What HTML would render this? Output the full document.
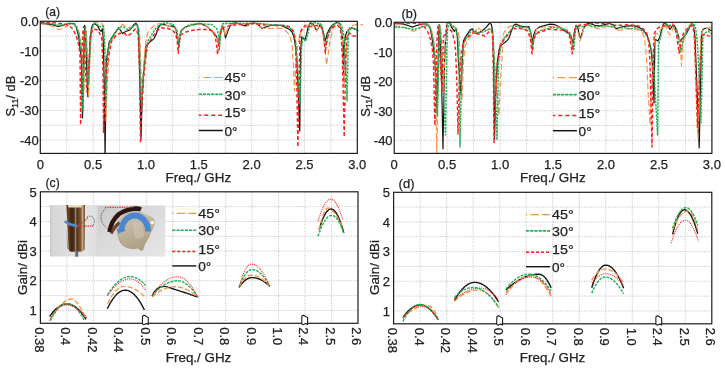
<!DOCTYPE html><html><head><meta charset="utf-8"><style>html,body{margin:0;padding:0;background:#fff;overflow:hidden}</style></head><body><svg width="725" height="371" viewBox="0 0 725 371" font-family='"Liberation Sans", sans-serif' style="display:block;will-change:transform">
<style>text{fill:#222222;stroke:#222222;stroke-width:0.25px} .gr{stroke:#bdbdbd;stroke-width:0.9;stroke-dasharray:1.1 1.3;fill:none}</style>
<rect width="725" height="371" fill="#fff"/>
<clipPath id="ca"><rect x="40.30" y="17.30" width="324.00" height="136.10"/></clipPath>
<line x1="66.72" y1="22.10" x2="66.72" y2="152.60" class="gr"/>
<line x1="93.13" y1="22.10" x2="93.13" y2="152.60" class="gr"/>
<line x1="119.55" y1="22.10" x2="119.55" y2="152.60" class="gr"/>
<line x1="145.97" y1="22.10" x2="145.97" y2="152.60" class="gr"/>
<line x1="172.38" y1="22.10" x2="172.38" y2="152.60" class="gr"/>
<line x1="198.80" y1="22.10" x2="198.80" y2="152.60" class="gr"/>
<line x1="225.22" y1="22.10" x2="225.22" y2="152.60" class="gr"/>
<line x1="251.63" y1="22.10" x2="251.63" y2="152.60" class="gr"/>
<line x1="278.05" y1="22.10" x2="278.05" y2="152.60" class="gr"/>
<line x1="304.47" y1="22.10" x2="304.47" y2="152.60" class="gr"/>
<line x1="330.88" y1="22.10" x2="330.88" y2="152.60" class="gr"/>
<line x1="41.10" y1="36.15" x2="356.50" y2="36.15" class="gr"/>
<line x1="41.10" y1="51.00" x2="356.50" y2="51.00" class="gr"/>
<line x1="41.10" y1="65.85" x2="356.50" y2="65.85" class="gr"/>
<line x1="41.10" y1="80.70" x2="356.50" y2="80.70" class="gr"/>
<line x1="41.10" y1="95.55" x2="356.50" y2="95.55" class="gr"/>
<line x1="41.10" y1="110.40" x2="356.50" y2="110.40" class="gr"/>
<line x1="41.10" y1="125.25" x2="356.50" y2="125.25" class="gr"/>
<line x1="41.10" y1="140.10" x2="356.50" y2="140.10" class="gr"/>
<text x="38.70" y="26.00" font-size="13" text-anchor="end" >0.0</text>
<text x="38.70" y="55.70" font-size="13" text-anchor="end" >-10</text>
<text x="38.70" y="85.40" font-size="13" text-anchor="end" >-20</text>
<text x="38.70" y="115.10" font-size="13" text-anchor="end" >-30</text>
<text x="38.70" y="144.80" font-size="13" text-anchor="end" >-40</text>
<text x="40.30" y="168.80" font-size="13" text-anchor="middle" >0</text>
<text x="93.13" y="168.80" font-size="13" text-anchor="middle" >0.5</text>
<text x="145.97" y="168.80" font-size="13" text-anchor="middle" >1.0</text>
<text x="198.80" y="168.80" font-size="13" text-anchor="middle" >1.5</text>
<text x="251.63" y="168.80" font-size="13" text-anchor="middle" >2.0</text>
<text x="304.47" y="168.80" font-size="13" text-anchor="middle" >2.5</text>
<text x="357.30" y="168.80" font-size="13" text-anchor="middle" >3.0</text>
<text x="165.60" y="181.50" font-size="13" text-anchor="start" textLength="65.5" lengthAdjust="spacingAndGlyphs" >Freq./ GHz</text>
<text x="45.20" y="15.50" font-size="13.5" text-anchor="start" textLength="14.8" lengthAdjust="spacingAndGlyphs" >(a)</text>
<text transform="translate(15.20 116.60) rotate(-90)" font-size="12" textLength="41" lengthAdjust="spacingAndGlyphs">S<tspan font-size="8.5" dy="2.5">11</tspan><tspan dy="-2.5">/ dB</tspan></text>
<path d="M198.8,77.5 L222.8,77.5" fill="none" stroke="#f5974a" stroke-width="1.2" stroke-linejoin="round" stroke-dasharray="8.2 3.3" stroke-dashoffset="7.2"/>
<path d="M198.8,94.2 L222.8,94.2" fill="none" stroke="#1fb358" stroke-width="1.6" stroke-linejoin="round" stroke-dasharray="3.3 0.8"/>
<path d="M198.8,115.3 L222.8,115.3" fill="none" stroke="#ff1e1e" stroke-width="1.5" stroke-linejoin="round" stroke-dasharray="4 3" stroke-dashoffset="1.6"/>
<path d="M198.8,130.5 L222.8,130.5" fill="none" stroke="#161616" stroke-width="1.5" stroke-linejoin="round"/>
<text x="224.50" y="82.30" font-size="13" text-anchor="start" textLength="21.6" lengthAdjust="spacingAndGlyphs" >45°</text>
<text x="224.50" y="99.80" font-size="13" text-anchor="start" textLength="21.6" lengthAdjust="spacingAndGlyphs" >30°</text>
<text x="224.50" y="117.20" font-size="13" text-anchor="start" textLength="21.6" lengthAdjust="spacingAndGlyphs" >15°</text>
<text x="224.50" y="135.70" font-size="13" text-anchor="start" textLength="13.0" lengthAdjust="spacingAndGlyphs" >0°</text>
<path d="M40.5,23.5 L46.0,23.8 L52.1,24.7 L58.2,26.5 L63.1,25.3 L69.1,23.5 L74.0,23.7 L76.4,27.7 L78.6,36.2 L80.0,48.3 L81.3,58.0 L81.9,80.0 L82.5,118.0 L83.2,85.0 L84.0,45.0 L84.6,25.3 L85.3,30.0 L86.3,55.0 L87.3,85.0 L88.0,97.0 L88.6,80.0 L89.1,63.0 L90.2,40.0 L91.5,27.7 L93.0,24.5 L94.6,23.5 L98.2,26.5 L99.4,29.5 L101.2,31.3 L102.5,28.9 L103.2,40.0 L104.2,80.0 L105.1,160.0 L105.6,110.0 L106.1,63.0 L109.1,42.3 L112.8,36.2 L116.4,30.7 L118.8,27.7 L120.0,29.5 L122.5,33.5 L126.1,31.3 L129.7,30.1 L133.3,25.3 L135.8,23.1 L137.6,25.3 L138.8,36.2 L139.4,63.0 L140.3,100.0 L141.0,139.0 L141.8,110.0 L143.0,80.0 L144.3,63.0 L146.1,45.9 L150.3,41.7 L154.0,38.6 L156.4,33.8 L157.6,28.9 L160.7,24.7 L164.9,24.7 L169.7,26.5 L172.1,25.9 L174.6,27.1 L176.4,31.3 L178.2,39.8 L178.8,44.0 L180.0,35.0 L181.8,29.5 L186.7,26.5 L194.0,24.7 L200.0,23.5 L206.1,25.9 L210.9,30.1 L214.6,33.8 L217.0,37.4 L218.8,45.0 L220.6,32.6 L222.5,25.3 L224.3,31.3 L225.5,37.8 L227.3,32.6 L229.7,26.5 L232.2,23.5 L236.4,22.9 L240.0,24.3 L244.9,25.9 L249.7,23.5 L254.6,22.9 L258.2,24.7 L261.8,28.3 L265.5,27.1 L270.3,25.5 L276.4,25.0 L281.3,25.5 L284.9,27.1 L289.7,29.5 L292.1,32.0 L294.0,37.4 L295.8,48.3 L297.0,63.0 L298.5,100.0 L299.8,131.0 L300.3,80.0 L300.6,50.0 L301.8,36.8 L303.1,38.0 L304.9,39.8 L306.7,33.8 L308.5,25.3 L310.3,22.9 L312.8,23.5 L316.4,30.1 L318.2,28.3 L320.4,24.0 L322.2,28.9 L324.1,36.2 L325.3,41.0 L327.1,33.8 L330.1,27.7 L333.8,24.0 L337.4,22.2 L339.8,24.0 L341.7,31.3 L342.9,42.3 L343.7,80.0 L344.1,48.3 L345.3,36.2 L347.1,31.3 L349.6,28.9 L351.4,27.7 L354.4,28.9 L357.3,30.0" fill="none" stroke="#161616" stroke-width="1.2" stroke-linejoin="round" clip-path="url(#ca)"/>
<path d="M40.5,23.5 L49.7,25.3 L54.0,27.0 L57.0,28.9 L59.4,29.5 L61.5,29.0 L63.7,27.7 L69.1,24.7 L74.0,24.5 L77.0,27.0 L79.0,32.0 L80.7,42.0 L82.5,55.0 L83.5,80.0 L84.0,90.0 L84.6,60.0 L85.2,35.0 L85.5,26.0 L86.2,32.0 L87.5,60.0 L88.7,96.0 L89.5,70.0 L90.5,45.0 L92.0,30.0 L94.6,22.2 L98.0,23.0 L102.5,24.0 L104.3,35.0 L105.2,63.0 L106.0,121.0 L107.0,90.0 L108.5,63.0 L110.3,43.5 L112.8,38.6 L117.6,30.1 L121.3,26.5 L122.4,24.0 L127.3,27.7 L132.1,27.1 L137.0,27.1 L139.4,30.1 L140.5,55.0 L141.5,90.0 L142.0,100.0 L143.0,80.0 L144.5,55.0 L146.0,40.0 L147.9,32.6 L151.6,27.7 L155.2,24.7 L160.0,23.5 L165.0,24.5 L170.0,26.5 L174.0,27.5 L176.0,30.0 L178.5,41.0 L181.0,30.0 L186.0,26.5 L194.0,25.0 L200.0,24.0 L206.0,25.5 L211.0,30.0 L214.6,33.0 L217.0,37.0 L219.0,45.5 L221.0,30.0 L222.5,25.0 L224.0,30.0 L225.5,36.0 L227.0,30.0 L230.0,25.0 L236.0,23.0 L240.0,24.7 L246.1,26.7 L250.3,24.7 L254.6,22.6 L260.6,27.1 L264.3,28.3 L276.4,28.3 L281.3,28.3 L284.9,30.1 L288.5,33.8 L290.9,39.8 L292.1,45.9 L293.3,63.0 L294.5,91.0 L295.3,75.0 L295.8,63.0 L298.2,42.3 L301.2,31.3 L304.3,28.3 L307.3,26.5 L310.3,22.9 L314.0,26.5 L316.4,31.3 L318.2,27.7 L320.0,24.0 L322.0,28.0 L324.0,40.0 L325.0,50.0 L326.5,65.0 L327.7,58.0 L330.1,39.8 L333.8,26.5 L338.0,22.9 L341.1,27.7 L342.5,40.0 L344.0,87.0 L345.0,70.0 L345.9,63.0 L347.7,30.1 L350.2,26.5 L355.6,24.7 L363.0,24.7" fill="none" stroke="#f5974a" stroke-width="1.2" stroke-linejoin="round" stroke-dasharray="6 2.6" clip-path="url(#ca)"/>
<path d="M40.5,23.0 L50.0,23.5 L58.0,25.0 L63.0,25.0 L69.0,23.3 L74.0,23.5 L76.5,26.5 L79.0,34.0 L80.8,46.0 L82.0,62.0 L83.0,112.0 L83.8,70.0 L84.5,40.0 L85.2,26.0 L86.0,32.0 L87.3,60.0 L88.5,85.0 L89.5,63.0 L90.5,40.0 L92.0,28.0 L94.6,23.5 L98.0,25.0 L101.0,27.0 L103.5,26.0 L104.5,40.0 L105.3,63.0 L106.0,104.0 L106.8,70.0 L107.5,55.0 L109.5,42.0 L113.0,36.0 L117.0,30.0 L121.3,26.5 L123.6,27.1 L128.5,30.1 L132.1,27.1 L136.4,24.0 L138.2,27.7 L139.5,45.0 L140.5,80.0 L141.5,104.0 L142.5,90.0 L143.5,75.0 L144.9,63.0 L147.9,41.0 L151.6,35.0 L155.2,28.9 L158.8,25.3 L161.9,23.5 L167.3,22.9 L173.3,24.7 L177.0,30.1 L178.8,48.3 L180.6,32.6 L184.3,27.7 L190.0,24.5 L200.0,23.5 L212.1,24.7 L217.0,28.9 L218.8,36.2 L219.4,49.6 L221.2,27.7 L223.0,23.5 L235.0,23.0 L245.0,23.5 L255.0,23.0 L264.3,24.0 L272.8,24.7 L280.0,25.0 L285.0,25.9 L290.0,28.0 L293.0,31.0 L295.5,40.0 L297.5,63.0 L298.5,85.0 L300.0,104.0 L300.8,75.0 L301.5,50.0 L302.5,38.0 L304.3,39.8 L306.1,41.0 L307.9,33.8 L309.7,25.3 L314.0,22.6 L318.8,23.5 L321.9,25.3 L323.0,30.0 L324.5,38.0 L326.0,46.3 L327.5,38.0 L330.0,30.0 L333.0,25.0 L337.0,22.5 L340.0,23.0 L342.0,27.0 L344.0,36.0 L345.5,60.0 L347.0,101.0 L347.8,63.0 L348.3,32.6 L350.8,28.3 L354.4,28.5 L357.3,30.1 L359.0,31.0" fill="none" stroke="#1fb358" stroke-width="1.45" stroke-linejoin="round" stroke-dasharray="2.4 1" clip-path="url(#ca)"/>
<path d="M40.5,22.5 L48.0,22.7 L55.8,22.9 L64.3,24.0 L69.1,25.9 L72.8,28.9 L76.4,36.2 L78.8,45.9 L80.0,54.4 L80.6,125.0 L81.2,90.0 L82.0,50.0 L83.0,30.0 L83.6,26.5 L84.2,35.0 L85.0,60.0 L86.0,80.0 L87.0,92.0 L87.8,75.0 L89.0,63.0 L90.3,35.0 L93.3,28.9 L98.2,30.1 L101.8,38.6 L103.0,70.0 L103.5,133.0 L104.5,100.0 L106.0,75.0 L107.3,63.0 L111.6,41.0 L116.4,35.0 L120.0,33.2 L125.0,33.8 L127.3,36.2 L130.9,33.8 L135.2,28.9 L137.0,31.3 L138.2,36.2 L139.5,70.0 L140.5,143.5 L141.5,110.0 L143.5,80.0 L144.9,63.0 L147.3,44.7 L151.6,38.6 L156.4,31.3 L161.3,27.7 L165.0,28.3 L167.3,28.3 L172.1,30.1 L175.8,33.8 L177.3,42.0 L178.2,53.2 L179.2,42.0 L180.6,35.0 L184.3,32.6 L190.3,30.7 L198.8,29.5 L207.3,29.5 L212.1,30.7 L215.2,36.2 L217.0,48.3 L217.6,54.4 L218.8,42.3 L220.6,30.1 L224.3,27.1 L231.6,25.3 L240.0,24.5 L250.0,24.0 L255.0,23.5 L265.0,25.0 L275.0,25.5 L280.0,25.9 L283.6,25.3 L287.3,25.9 L290.9,27.7 L293.3,31.3 L295.2,38.6 L296.5,70.0 L297.9,147.0 L298.8,100.0 L299.5,63.0 L300.0,33.8 L301.8,28.9 L305.5,25.3 L309.1,26.5 L312.8,26.5 L317.6,25.3 L320.7,26.5 L323.1,31.3 L324.5,45.0 L325.3,53.0 L326.5,42.0 L328.0,36.0 L330.0,30.0 L333.0,27.0 L337.4,25.3 L339.8,27.7 L341.1,33.8 L342.5,60.0 L344.2,137.0 L345.3,80.0 L346.0,50.0 L347.1,36.0 L349.6,33.0 L352.6,36.0 L357.3,36.0" fill="none" stroke="#ff1e1e" stroke-width="1.45" stroke-linejoin="round" stroke-dasharray="3.6 2.4" clip-path="url(#ca)"/>
<rect x="40.30" y="21.30" width="317.00" height="132.10" fill="none" stroke="#1c1c1c" stroke-width="1.2"/>
<clipPath id="cb"><rect x="394.20" y="18.30" width="320.70" height="135.10"/></clipPath>
<line x1="420.68" y1="23.10" x2="420.68" y2="152.60" class="gr"/>
<line x1="447.15" y1="23.10" x2="447.15" y2="152.60" class="gr"/>
<line x1="473.62" y1="23.10" x2="473.62" y2="152.60" class="gr"/>
<line x1="500.10" y1="23.10" x2="500.10" y2="152.60" class="gr"/>
<line x1="526.58" y1="23.10" x2="526.58" y2="152.60" class="gr"/>
<line x1="553.05" y1="23.10" x2="553.05" y2="152.60" class="gr"/>
<line x1="579.52" y1="23.10" x2="579.52" y2="152.60" class="gr"/>
<line x1="606.00" y1="23.10" x2="606.00" y2="152.60" class="gr"/>
<line x1="632.47" y1="23.10" x2="632.47" y2="152.60" class="gr"/>
<line x1="658.95" y1="23.10" x2="658.95" y2="152.60" class="gr"/>
<line x1="685.42" y1="23.10" x2="685.42" y2="152.60" class="gr"/>
<line x1="395.00" y1="37.05" x2="711.10" y2="37.05" class="gr"/>
<line x1="395.00" y1="51.80" x2="711.10" y2="51.80" class="gr"/>
<line x1="395.00" y1="66.55" x2="711.10" y2="66.55" class="gr"/>
<line x1="395.00" y1="81.30" x2="711.10" y2="81.30" class="gr"/>
<line x1="395.00" y1="96.05" x2="711.10" y2="96.05" class="gr"/>
<line x1="395.00" y1="110.80" x2="711.10" y2="110.80" class="gr"/>
<line x1="395.00" y1="125.55" x2="711.10" y2="125.55" class="gr"/>
<line x1="395.00" y1="140.30" x2="711.10" y2="140.30" class="gr"/>
<text x="392.60" y="27.00" font-size="13" text-anchor="end" >0.0</text>
<text x="392.60" y="56.50" font-size="13" text-anchor="end" >-10</text>
<text x="392.60" y="86.00" font-size="13" text-anchor="end" >-20</text>
<text x="392.60" y="115.50" font-size="13" text-anchor="end" >-30</text>
<text x="392.60" y="145.00" font-size="13" text-anchor="end" >-40</text>
<text x="394.20" y="168.80" font-size="13" text-anchor="middle" >0</text>
<text x="447.15" y="168.80" font-size="13" text-anchor="middle" >0.5</text>
<text x="500.10" y="168.80" font-size="13" text-anchor="middle" >1.0</text>
<text x="553.05" y="168.80" font-size="13" text-anchor="middle" >1.5</text>
<text x="606.00" y="168.80" font-size="13" text-anchor="middle" >2.0</text>
<text x="658.95" y="168.80" font-size="13" text-anchor="middle" >2.5</text>
<text x="711.90" y="168.80" font-size="13" text-anchor="middle" >3.0</text>
<text x="520.10" y="181.50" font-size="13" text-anchor="start" textLength="65.5" lengthAdjust="spacingAndGlyphs" >Freq./ GHz</text>
<text x="401.60" y="17.50" font-size="13.5" text-anchor="start" textLength="15.5" lengthAdjust="spacingAndGlyphs" >(b)</text>
<text transform="translate(369.60 116.80) rotate(-90)" font-size="12" textLength="41" lengthAdjust="spacingAndGlyphs">S<tspan font-size="8.5" dy="2.5">11</tspan><tspan dy="-2.5">/ dB</tspan></text>
<path d="M552.9,77.7 L576.9,77.7" fill="none" stroke="#f5974a" stroke-width="1.2" stroke-linejoin="round" stroke-dasharray="8.2 3.3" stroke-dashoffset="7.2"/>
<path d="M552.9,94.6 L576.9,94.6" fill="none" stroke="#1fb358" stroke-width="1.6" stroke-linejoin="round" stroke-dasharray="3.3 0.8"/>
<path d="M552.9,115.5 L576.9,115.5" fill="none" stroke="#ff1e1e" stroke-width="1.5" stroke-linejoin="round" stroke-dasharray="4 3" stroke-dashoffset="1.6"/>
<path d="M552.9,130.7 L576.9,130.7" fill="none" stroke="#161616" stroke-width="1.5" stroke-linejoin="round"/>
<text x="578.60" y="82.30" font-size="13" text-anchor="start" textLength="21.6" lengthAdjust="spacingAndGlyphs" >45°</text>
<text x="578.60" y="99.50" font-size="13" text-anchor="start" textLength="21.6" lengthAdjust="spacingAndGlyphs" >30°</text>
<text x="578.60" y="117.90" font-size="13" text-anchor="start" textLength="21.6" lengthAdjust="spacingAndGlyphs" >15°</text>
<text x="578.60" y="136.40" font-size="13" text-anchor="start" textLength="13.0" lengthAdjust="spacingAndGlyphs" >0°</text>
<path d="M394.5,23.5 L402.7,24.0 L407.6,25.3 L412.4,27.1 L417.3,25.3 L422.1,24.0 L427.0,24.0 L430.0,27.7 L431.8,36.2 L433.7,49.6 L435.0,63.0 L436.0,85.0 L437.0,113.0 L437.8,80.0 L438.5,45.0 L439.1,24.7 L439.8,30.0 L440.8,55.0 L441.8,90.0 L443.0,149.0 L443.8,100.0 L444.5,63.0 L445.5,40.0 L447.0,23.0 L449.4,22.2 L451.8,27.7 L454.3,31.3 L456.1,28.9 L457.3,36.2 L458.5,63.0 L461.0,94.0 L462.2,63.0 L463.4,41.0 L465.2,37.4 L467.6,33.8 L470.0,30.1 L472.4,28.9 L474.9,33.2 L478.5,33.2 L482.1,30.7 L485.8,27.7 L489.4,23.5 L491.2,24.0 L492.5,30.1 L493.7,63.0 L494.5,139.0 L495.5,100.0 L497.3,63.0 L499.1,49.6 L501.6,44.7 L505.2,42.3 L508.8,38.6 L511.3,31.3 L513.7,25.3 L516.1,24.0 L519.7,25.9 L523.3,26.5 L527.0,27.1 L528.8,26.5 L530.0,30.1 L531.6,36.2 L532.5,44.1 L533.7,35.0 L535.5,30.1 L539.1,27.1 L545.2,25.3 L550.0,24.1 L554.9,24.7 L559.7,27.1 L563.3,30.1 L567.0,32.6 L569.4,33.8 L571.8,38.6 L573.1,43.5 L574.3,32.6 L576.1,25.3 L577.9,27.7 L579.1,35.0 L580.3,38.0 L581.6,35.0 L583.4,28.9 L585.8,24.7 L588.8,22.9 L594.9,25.3 L599.7,25.9 L604.6,24.7 L609.4,23.5 L613.1,24.7 L616.1,28.9 L619.1,27.7 L624.0,26.5 L628.8,25.9 L634.9,25.9 L639.7,27.7 L643.3,30.1 L647.0,35.0 L649.4,42.3 L651.2,50.8 L652.3,63.0 L654.0,103.0 L654.5,70.0 L654.9,39.8 L656.1,39.8 L657.9,41.0 L659.7,37.4 L661.6,30.1 L663.4,24.0 L665.2,22.9 L667.6,25.3 L670.0,29.5 L672.4,25.9 L674.2,25.3 L676.7,30.1 L678.5,36.2 L680.3,41.0 L682.1,38.6 L684.6,36.2 L687.0,32.6 L689.4,27.7 L691.8,23.5 L693.7,26.5 L694.9,36.2 L696.0,63.0 L699.2,148.0 L700.5,90.0 L701.0,63.0 L701.6,32.6 L702.8,29.5 L705.2,28.3 L707.6,28.3 L710.0,30.1 L711.9,30.3" fill="none" stroke="#161616" stroke-width="1.2" stroke-linejoin="round" clip-path="url(#cb)"/>
<path d="M394.5,25.9 L402.7,26.5 L407.6,28.3 L413.0,31.3 L417.3,29.5 L422.1,26.5 L425.8,24.7 L429.4,25.3 L431.8,31.3 L434.3,44.7 L435.5,80.0 L436.8,155.0 L437.8,100.0 L438.8,60.0 L439.7,30.0 L440.3,26.0 L441.0,32.0 L442.0,55.0 L443.5,96.0 L444.5,60.0 L445.5,35.0 L447.0,22.9 L450.6,24.0 L454.3,26.5 L457.3,28.9 L459.1,36.2 L460.5,63.0 L462.0,100.0 L462.8,80.0 L463.4,63.0 L465.2,45.9 L467.6,41.0 L471.3,35.0 L475.0,32.6 L477.3,27.1 L482.1,31.3 L487.0,30.1 L490.6,28.9 L492.5,32.6 L494.5,63.0 L499.0,115.0 L500.5,80.0 L501.8,63.0 L502.8,36.2 L504.6,31.3 L507.6,27.7 L511.3,25.9 L516.0,25.5 L520.0,27.0 L523.3,28.9 L527.0,30.1 L529.0,31.0 L531.0,38.0 L532.0,46.0 L534.0,38.0 L536.7,28.9 L542.8,27.1 L550.0,26.5 L560.0,27.0 L565.8,30.1 L569.4,33.8 L571.0,40.0 L572.0,46.3 L573.5,40.0 L575.5,27.7 L577.3,30.1 L579.1,36.2 L580.1,41.0 L581.6,36.2 L584.0,27.7 L586.4,25.3 L590.0,25.3 L594.9,27.7 L599.1,28.9 L603.3,27.7 L608.2,25.3 L613.1,26.5 L616.7,30.1 L621.6,30.1 L626.4,28.9 L631.3,28.9 L634.9,29.5 L639.7,30.1 L642.1,32.6 L644.6,38.6 L645.8,49.6 L646.8,63.0 L648.0,90.0 L650.0,124.6 L651.5,90.0 L653.0,55.0 L655.5,33.8 L657.9,33.8 L660.3,30.1 L662.8,26.5 L665.2,24.0 L667.6,31.3 L670.0,35.0 L671.9,31.3 L673.6,26.5 L676.1,30.1 L678.5,35.0 L680.3,42.3 L681.5,66.0 L683.3,42.3 L685.8,32.6 L688.8,26.5 L691.2,22.9 L693.7,27.7 L695.0,63.0 L698.0,137.8 L699.0,90.0 L699.7,63.0 L700.9,35.0 L703.4,29.5 L707.6,28.3 L711.3,27.1 L714.0,26.5" fill="none" stroke="#f5974a" stroke-width="1.2" stroke-linejoin="round" stroke-dasharray="6 2.6" clip-path="url(#cb)"/>
<path d="M394.5,27.1 L405.1,27.7 L412.4,29.5 L418.5,28.3 L423.3,26.5 L428.2,25.3 L430.6,28.9 L433.0,38.6 L434.9,52.0 L436.0,80.0 L437.3,116.0 L438.3,80.0 L439.0,45.0 L439.6,25.0 L440.5,32.0 L442.0,60.0 L443.5,95.0 L445.5,135.0 L446.2,90.0 L446.8,50.0 L447.5,30.0 L449.4,22.2 L453.1,26.5 L456.1,30.1 L457.9,37.4 L459.0,63.0 L460.0,147.0 L461.0,100.0 L461.8,63.0 L464.0,42.3 L466.4,37.4 L470.0,32.6 L473.1,30.1 L474.9,31.3 L479.7,32.6 L484.6,31.3 L489.4,28.9 L491.8,29.5 L493.1,36.2 L494.5,63.0 L497.0,140.0 L497.8,100.0 L498.5,63.0 L500.9,44.7 L504.0,38.6 L507.6,33.8 L511.3,29.5 L513.6,26.5 L518.5,26.5 L522.1,27.7 L525.8,27.1 L530.0,29.5 L531.5,36.0 L532.7,49.6 L534.0,38.0 L536.7,32.6 L541.6,30.1 L547.6,28.9 L550.0,27.1 L556.1,27.7 L562.1,28.3 L567.0,30.1 L570.6,33.8 L571.8,40.0 L573.7,50.8 L575.0,35.0 L576.1,25.3 L579.1,26.5 L584.0,26.5 L588.8,24.7 L590.0,26.5 L597.3,26.5 L604.6,25.9 L609.4,26.5 L616.7,27.7 L624.0,27.7 L631.3,28.9 L634.9,27.7 L639.7,29.5 L644.6,32.6 L648.2,38.6 L651.2,49.6 L653.5,63.0 L657.6,135.0 L658.2,80.0 L658.5,44.7 L660.3,38.6 L662.2,30.1 L664.0,25.3 L667.6,25.3 L671.3,25.3 L673.0,25.9 L676.1,31.3 L678.5,39.8 L680.9,52.0 L683.3,38.6 L687.0,30.1 L690.6,25.3 L693.7,23.5 L695.5,27.7 L697.3,42.3 L698.5,63.0 L701.0,123.0 L702.0,80.0 L702.8,37.4 L705.2,32.6 L708.8,31.3 L711.3,33.8 L711.9,34.0" fill="none" stroke="#1fb358" stroke-width="1.45" stroke-linejoin="round" stroke-dasharray="2.4 1" clip-path="url(#cb)"/>
<path d="M394.5,23.5 L405.1,23.5 L412.4,22.9 L419.7,24.0 L424.6,27.1 L428.2,32.6 L430.6,39.8 L432.4,49.6 L433.5,63.0 L434.9,125.6 L436.0,80.0 L437.0,40.0 L437.9,26.5 L438.8,35.0 L440.0,55.0 L442.0,90.7 L442.8,63.0 L443.3,37.4 L445.8,31.3 L448.2,28.9 L451.8,31.3 L454.3,39.8 L455.5,49.6 L456.8,80.0 L458.0,134.0 L459.2,90.0 L460.3,63.0 L462.8,44.7 L465.2,39.8 L468.8,36.2 L472.5,33.8 L473.6,31.3 L477.3,33.8 L482.1,35.0 L484.6,36.2 L488.2,32.6 L491.2,30.1 L492.5,33.8 L493.3,70.0 L494.0,143.5 L495.3,100.0 L497.3,63.0 L500.3,44.7 L504.0,39.8 L507.6,35.0 L511.3,30.1 L513.7,27.7 L514.9,28.9 L519.7,28.3 L524.6,29.5 L528.2,31.3 L530.5,40.0 L532.0,53.8 L533.5,40.0 L536.1,33.8 L541.6,31.3 L547.6,30.1 L550.0,28.9 L557.3,30.1 L562.1,30.1 L567.0,31.3 L569.4,35.0 L571.0,45.0 L572.1,53.8 L573.5,40.0 L574.9,28.9 L579.1,25.3 L584.0,24.7 L588.8,24.1 L590.0,23.5 L597.3,22.9 L604.6,23.5 L609.4,22.9 L614.3,25.3 L621.6,25.3 L628.8,24.7 L634.9,25.3 L638.5,25.9 L643.3,28.9 L647.0,33.8 L648.8,42.3 L650.0,63.0 L652.0,147.0 L652.8,90.0 L653.5,50.0 L654.3,33.8 L656.7,28.9 L660.3,26.5 L664.0,25.9 L667.6,27.7 L670.0,25.9 L672.4,24.0 L674.9,27.7 L676.7,36.2 L677.9,44.7 L679.1,53.2 L680.9,42.3 L683.3,33.8 L687.0,28.9 L689.4,26.5 L691.8,25.3 L694.3,32.6 L695.5,63.0 L697.5,128.0 L699.0,90.0 L700.3,63.0 L702.2,35.0 L705.2,33.8 L707.6,35.6 L711.9,36.2" fill="none" stroke="#ff1e1e" stroke-width="1.45" stroke-linejoin="round" stroke-dasharray="3.6 2.4" clip-path="url(#cb)"/>
<rect x="394.20" y="22.30" width="317.70" height="131.10" fill="none" stroke="#1c1c1c" stroke-width="1.2"/>
<line x1="66.87" y1="192.60" x2="66.87" y2="322.50" class="gr"/>
<line x1="93.33" y1="192.60" x2="93.33" y2="322.50" class="gr"/>
<line x1="119.80" y1="192.60" x2="119.80" y2="322.50" class="gr"/>
<line x1="146.27" y1="192.60" x2="146.27" y2="322.50" class="gr"/>
<line x1="172.73" y1="192.60" x2="172.73" y2="322.50" class="gr"/>
<line x1="199.20" y1="192.60" x2="199.20" y2="322.50" class="gr"/>
<line x1="225.67" y1="192.60" x2="225.67" y2="322.50" class="gr"/>
<line x1="252.13" y1="192.60" x2="252.13" y2="322.50" class="gr"/>
<line x1="278.60" y1="192.60" x2="278.60" y2="322.50" class="gr"/>
<line x1="305.07" y1="192.60" x2="305.07" y2="322.50" class="gr"/>
<line x1="331.53" y1="192.60" x2="331.53" y2="322.50" class="gr"/>
<line x1="41.20" y1="206.62" x2="357.20" y2="206.62" class="gr"/>
<line x1="41.20" y1="221.45" x2="357.20" y2="221.45" class="gr"/>
<line x1="41.20" y1="236.28" x2="357.20" y2="236.28" class="gr"/>
<line x1="41.20" y1="251.10" x2="357.20" y2="251.10" class="gr"/>
<line x1="41.20" y1="265.93" x2="357.20" y2="265.93" class="gr"/>
<line x1="41.20" y1="280.75" x2="357.20" y2="280.75" class="gr"/>
<line x1="41.20" y1="295.57" x2="357.20" y2="295.57" class="gr"/>
<line x1="41.20" y1="310.40" x2="357.20" y2="310.40" class="gr"/>
<text x="36.80" y="196.50" font-size="13" text-anchor="end" >5</text>
<text x="36.80" y="226.15" font-size="13" text-anchor="end" >4</text>
<text x="36.80" y="255.80" font-size="13" text-anchor="end" >3</text>
<text x="36.80" y="285.45" font-size="13" text-anchor="end" >2</text>
<text x="36.80" y="315.10" font-size="13" text-anchor="end" >1</text>
<text x="34.80" y="327.20" font-size="13" text-anchor="start" transform="rotate(90 34.80 327.20)" >0.38</text>
<text x="61.27" y="327.20" font-size="13" text-anchor="start" transform="rotate(90 61.27 327.20)" >0.4</text>
<text x="87.73" y="327.20" font-size="13" text-anchor="start" transform="rotate(90 87.73 327.20)" >0.42</text>
<text x="114.20" y="327.20" font-size="13" text-anchor="start" transform="rotate(90 114.20 327.20)" >0.44</text>
<text x="140.67" y="327.20" font-size="13" text-anchor="start" transform="rotate(90 140.67 327.20)" >0.5</text>
<text x="167.13" y="327.20" font-size="13" text-anchor="start" transform="rotate(90 167.13 327.20)" >0.6</text>
<text x="193.60" y="327.20" font-size="13" text-anchor="start" transform="rotate(90 193.60 327.20)" >0.7</text>
<text x="220.07" y="327.20" font-size="13" text-anchor="start" transform="rotate(90 220.07 327.20)" >0.8</text>
<text x="246.53" y="327.20" font-size="13" text-anchor="start" transform="rotate(90 246.53 327.20)" >0.9</text>
<text x="273.00" y="327.20" font-size="13" text-anchor="start" transform="rotate(90 273.00 327.20)" >1.0</text>
<text x="299.47" y="327.20" font-size="13" text-anchor="start" transform="rotate(90 299.47 327.20)" >2.4</text>
<text x="325.93" y="327.20" font-size="13" text-anchor="start" transform="rotate(90 325.93 327.20)" >2.5</text>
<text x="352.40" y="327.20" font-size="13" text-anchor="start" transform="rotate(90 352.40 327.20)" >2.6</text>
<text x="165.80" y="361.60" font-size="13" text-anchor="start" textLength="65.5" lengthAdjust="spacingAndGlyphs" >Freq./ GHz</text>
<text x="45.60" y="187.20" font-size="13.5" text-anchor="start" textLength="14.1" lengthAdjust="spacingAndGlyphs" >(c)</text>
<text transform="translate(26.50 295.00) rotate(-90)" font-size="13" textLength="55" lengthAdjust="spacingAndGlyphs">Gain/ dBi</text>
<path d="M172.3,213.3 L196.3,213.3" fill="none" stroke="#f5974a" stroke-width="1.3" stroke-linejoin="round" stroke-dasharray="8.5 3.2" stroke-dashoffset="7.3"/>
<path d="M172.3,230.3 L196.3,230.3" fill="none" stroke="#1fb358" stroke-width="1.6" stroke-linejoin="round" stroke-dasharray="3.2 1"/>
<path d="M172.3,251.4 L196.3,251.4" fill="none" stroke="#ff1e1e" stroke-width="1.5" stroke-linejoin="round" stroke-dasharray="3 2"/>
<path d="M172.3,265.9 L196.3,265.9" fill="none" stroke="#161616" stroke-width="1.4" stroke-linejoin="round"/>
<text x="198.30" y="217.90" font-size="13" text-anchor="start" textLength="21.6" lengthAdjust="spacingAndGlyphs" >45°</text>
<text x="198.30" y="235.20" font-size="13" text-anchor="start" textLength="21.6" lengthAdjust="spacingAndGlyphs" >30°</text>
<text x="198.30" y="253.60" font-size="13" text-anchor="start" textLength="21.6" lengthAdjust="spacingAndGlyphs" >15°</text>
<text x="198.30" y="271.00" font-size="13" text-anchor="start" textLength="13.0" lengthAdjust="spacingAndGlyphs" >0°</text>
<path d="M49.6,316.5 L50.6,315.1 L51.6,313.7 L52.6,312.5 L53.6,311.3 L54.6,310.2 L55.6,309.2 L56.6,308.3 L57.6,307.5 L58.6,306.8 L59.6,306.1 L60.6,305.5 L61.6,305.1 L62.6,304.7 L63.6,304.3 L64.6,304.1 L65.6,304.0 L66.6,303.9 L67.6,303.9 L68.6,304.0 L69.6,304.2 L70.6,304.5 L71.6,304.9 L72.6,305.3 L73.6,305.8 L74.6,306.4 L75.6,307.1 L76.6,307.9 L77.6,308.8 L78.6,309.7 L79.6,310.7 L80.6,311.9 L81.6,313.1 L82.6,314.3 L83.6,315.7 L84.6,317.1 L85.6,318.7 L86.0,319.3" fill="none" stroke="#161616" stroke-width="1.4" stroke-linejoin="round"/>
<path d="M107.3,308.7 L108.3,306.7 L109.3,304.8 L110.3,303.0 L111.3,301.4 L112.3,299.8 L113.3,298.4 L114.3,297.1 L115.3,295.9 L116.3,294.8 L117.3,293.8 L118.3,292.9 L119.3,292.2 L120.3,291.6 L121.3,291.1 L122.3,290.7 L123.3,290.4 L124.3,290.2 L125.3,290.2 L126.3,290.3 L127.3,290.4 L128.3,290.7 L129.3,291.1 L130.3,291.6 L131.3,292.2 L132.3,292.9 L133.3,293.7 L134.3,294.6 L135.3,295.7 L136.3,296.8 L137.3,298.1 L138.3,299.4 L139.3,300.9 L140.3,302.4 L141.3,304.1 L142.3,305.9 L143.3,307.8 L144.3,309.8 L144.4,310.0" fill="none" stroke="#161616" stroke-width="1.4" stroke-linejoin="round"/>
<path d="M152.1,296.0 C152.4,295.4 153.3,293.7 154.0,292.6 C154.7,291.5 155.7,290.4 156.5,289.6 C157.3,288.8 158.2,288.2 159.0,287.7 C159.8,287.2 160.7,286.9 161.5,286.7 C162.3,286.5 163.1,286.4 164.0,286.4 C164.9,286.4 165.8,286.6 167.0,286.9 C168.2,287.2 169.6,287.7 171.0,288.1 C172.4,288.6 173.8,289.1 175.5,289.6 C177.2,290.1 179.2,290.7 181.0,291.3 C182.8,291.9 184.7,292.6 186.5,293.2 C188.3,293.8 190.1,294.5 192.0,295.2 C193.9,295.9 197.0,296.9 198.0,297.2" fill="none" stroke="#161616" stroke-width="1.4" stroke-linejoin="round"/>
<path d="M239.1,287.3 L240.1,285.9 L241.1,284.5 L242.1,283.3 L243.1,282.2 L244.1,281.2 L245.1,280.4 L246.1,279.6 L247.1,279.0 L248.1,278.5 L249.1,278.1 L250.1,277.8 L251.1,277.6 L252.1,277.6 L253.1,277.6 L254.1,277.7 L255.1,277.9 L256.1,278.1 L257.1,278.3 L258.1,278.6 L259.1,279.0 L260.1,279.4 L261.1,279.9 L262.1,280.4 L263.1,281.0 L264.1,281.6 L265.1,282.3 L266.1,283.1 L267.1,283.9 L268.1,284.7 L269.1,285.6 L269.8,286.3" fill="none" stroke="#161616" stroke-width="1.4" stroke-linejoin="round"/>
<path d="M319.1,229.7 L320.1,226.4 L321.1,223.3 L322.1,220.6 L323.1,218.1 L324.1,216.0 L325.1,214.1 L326.1,212.5 L327.1,211.2 L328.1,210.2 L329.1,209.5 L330.1,209.1 L331.1,209.0 L332.1,209.2 L333.1,209.6 L334.1,210.4 L335.1,211.5 L336.1,212.8 L337.1,214.5 L338.1,216.4 L339.1,218.6 L340.1,221.1 L341.1,223.9 L342.1,227.0 L343.1,230.4 L343.8,233.0" fill="none" stroke="#161616" stroke-width="1.4" stroke-linejoin="round"/>
<path d="M49.5,321.0 C50.1,320.0 51.8,317.0 53.0,315.0 C54.2,313.0 55.7,310.8 57.0,309.0 C58.3,307.2 59.7,305.8 61.0,304.5 C62.3,303.2 63.8,302.3 65.0,301.5 C66.2,300.7 67.3,299.9 68.5,299.5 C69.7,299.1 70.9,298.8 72.0,299.0 C73.1,299.2 74.0,299.7 75.0,300.5 C76.0,301.3 77.0,302.6 78.0,304.0 C79.0,305.4 80.0,307.2 81.0,309.0 C82.0,310.8 83.2,313.0 84.0,314.5 C84.8,316.0 85.7,317.4 86.0,318.0" fill="none" stroke="#f5974a" stroke-width="1.4" stroke-linejoin="round" stroke-dasharray="5 2.2"/>
<path d="M107.5,303.8 L108.5,301.8 L109.5,299.9 L110.5,298.1 L111.5,296.5 L112.5,294.9 L113.5,293.5 L114.5,292.3 L115.5,291.1 L116.5,290.1 L117.5,289.2 L118.5,288.4 L119.5,287.8 L120.5,287.3 L121.5,286.9 L122.5,286.6 L123.5,286.4 L124.5,286.4 L125.5,286.4 L126.5,286.5 L127.5,286.7 L128.5,286.9 L129.5,287.1 L130.5,287.4 L131.5,287.7 L132.5,288.1 L133.5,288.5 L134.5,289.0 L135.5,289.6 L136.5,290.1 L137.5,290.8 L138.5,291.4 L139.5,292.2 L140.5,293.0 L141.5,293.8 L142.5,294.7 L143.5,295.6 L144.5,296.6 L145.5,297.6 L145.6,297.7" fill="none" stroke="#f5974a" stroke-width="1.4" stroke-linejoin="round" stroke-dasharray="5 2.2"/>
<path d="M152.1,297.0 L153.1,296.1 L154.1,295.3 L155.1,294.5 L156.1,293.7 L157.1,293.0 L158.1,292.3 L159.1,291.6 L160.1,291.0 L161.1,290.5 L162.1,289.9 L163.1,289.5 L164.1,289.0 L165.1,288.6 L166.1,288.3 L167.1,287.9 L168.1,287.7 L169.1,287.4 L170.1,287.2 L171.1,287.0 L172.1,286.9 L173.1,286.8 L174.1,286.8 L175.1,286.8 L176.1,286.8 L177.1,286.9 L178.1,287.0 L179.1,287.2 L180.1,287.4 L181.1,287.6 L182.1,287.9 L183.1,288.2 L184.1,288.6 L185.1,289.0 L186.1,289.4 L187.1,289.9 L188.1,290.4 L189.1,290.9 L190.1,291.5 L191.1,292.1 L192.1,292.8 L193.1,293.5 L194.1,294.2 L195.1,295.0 L196.1,295.8 L197.1,296.7 L198.0,297.5" fill="none" stroke="#f5974a" stroke-width="1.4" stroke-linejoin="round" stroke-dasharray="5 2.2"/>
<path d="M239.1,287.3 L240.1,285.4 L241.1,283.6 L242.1,282.0 L243.1,280.5 L244.1,279.3 L245.1,278.2 L246.1,277.3 L247.1,276.5 L248.1,275.9 L249.1,275.5 L250.1,275.3 L251.1,275.2 L252.1,275.2 L253.1,275.3 L254.1,275.5 L255.1,275.7 L256.1,276.0 L257.1,276.4 L258.1,276.8 L259.1,277.3 L260.1,277.8 L261.1,278.4 L262.1,279.1 L263.1,279.8 L264.1,280.6 L265.1,281.4 L266.1,282.4 L267.1,283.3 L268.1,284.4 L269.1,285.5 L269.8,286.3" fill="none" stroke="#f5974a" stroke-width="1.4" stroke-linejoin="round" stroke-dasharray="5 2.2"/>
<path d="M318.9,230.0 C319.2,228.7 320.2,224.7 321.0,222.0 C321.8,219.3 322.7,216.1 323.5,214.0 C324.3,211.9 325.1,210.5 325.8,209.5 C326.6,208.5 327.1,208.0 328.0,208.0 C328.9,208.0 329.7,208.3 331.0,209.5 C332.3,210.7 334.5,212.9 336.0,215.0 C337.5,217.1 338.7,219.7 340.0,222.0 C341.3,224.3 343.2,227.7 343.8,228.8" fill="none" stroke="#f5974a" stroke-width="1.4" stroke-linejoin="round" stroke-dasharray="5 2.2"/>
<path d="M50.5,320.5 L51.5,318.5 L52.5,316.7 L53.5,314.9 L54.5,313.3 L55.5,311.8 L56.5,310.4 L57.5,309.2 L58.5,308.1 L59.5,307.1 L60.5,306.2 L61.5,305.5 L62.5,304.9 L63.5,304.4 L64.5,304.0 L65.5,303.7 L66.5,303.6 L67.5,303.6 L68.5,303.7 L69.5,304.0 L70.5,304.3 L71.5,304.7 L72.5,305.3 L73.5,306.0 L74.5,306.8 L75.5,307.7 L76.5,308.7 L77.5,309.9 L78.5,311.1 L79.5,312.5 L80.5,313.9 L81.5,315.5 L82.5,317.2 L83.5,319.0 L84.0,320.0" fill="none" stroke="#1fb358" stroke-width="1.45" stroke-linejoin="round" stroke-dasharray="2.8 1.1"/>
<path d="M107.5,294.9 L108.5,293.3 L109.5,291.8 L110.5,290.3 L111.5,288.9 L112.5,287.6 L113.5,286.4 L114.5,285.2 L115.5,284.2 L116.5,283.1 L117.5,282.2 L118.5,281.3 L119.5,280.5 L120.5,279.8 L121.5,279.2 L122.5,278.6 L123.5,278.1 L124.5,277.7 L125.5,277.3 L126.5,277.0 L127.5,276.8 L128.5,276.7 L129.5,276.6 L130.5,276.6 L131.5,276.7 L132.5,276.8 L133.5,277.1 L134.5,277.4 L135.5,277.7 L136.5,278.2 L137.5,278.7 L138.5,279.3 L139.5,279.9 L140.5,280.7 L141.5,281.5 L142.5,282.3 L143.5,283.3 L144.5,284.3 L145.5,285.4 L145.6,285.5" fill="none" stroke="#1fb358" stroke-width="1.45" stroke-linejoin="round" stroke-dasharray="2.8 1.1"/>
<path d="M152.1,296.0 L153.1,294.8 L154.1,293.7 L155.1,292.6 L156.1,291.6 L157.1,290.6 L158.1,289.6 L159.1,288.8 L160.1,287.9 L161.1,287.1 L162.1,286.4 L163.1,285.7 L164.1,285.0 L165.1,284.4 L166.1,283.8 L167.1,283.3 L168.1,282.9 L169.1,282.4 L170.1,282.1 L171.1,281.7 L172.1,281.5 L173.1,281.2 L174.1,281.1 L175.1,280.9 L176.1,280.8 L177.1,280.8 L178.1,280.8 L179.1,280.9 L180.1,281.1 L181.1,281.3 L182.1,281.7 L183.1,282.1 L184.1,282.6 L185.1,283.1 L186.1,283.8 L187.1,284.5 L188.1,285.3 L189.1,286.2 L190.1,287.1 L191.1,288.2 L192.1,289.3 L193.1,290.5 L194.1,291.8 L195.1,293.1 L196.1,294.6 L197.1,296.1 L198.0,297.5" fill="none" stroke="#1fb358" stroke-width="1.45" stroke-linejoin="round" stroke-dasharray="2.8 1.1"/>
<path d="M239.1,287.3 L240.1,284.6 L241.1,282.2 L242.1,280.0 L243.1,278.0 L244.1,276.2 L245.1,274.6 L246.1,273.2 L247.1,272.1 L248.1,271.1 L249.1,270.4 L250.1,269.9 L251.1,269.6 L252.1,269.5 L253.1,269.6 L254.1,269.7 L255.1,270.0 L256.1,270.4 L257.1,270.9 L258.1,271.5 L259.1,272.2 L260.1,273.0 L261.1,273.9 L262.1,274.9 L263.1,276.0 L264.1,277.3 L265.1,278.6 L266.1,280.0 L267.1,281.6 L268.1,283.2 L269.1,285.0 L269.8,286.3" fill="none" stroke="#1fb358" stroke-width="1.45" stroke-linejoin="round" stroke-dasharray="2.8 1.1"/>
<path d="M318.0,236.3 L319.0,233.4 L320.0,230.7 L321.0,228.2 L322.0,225.9 L323.0,223.9 L324.0,222.1 L325.0,220.5 L326.0,219.1 L327.0,217.9 L328.0,217.0 L329.0,216.3 L330.0,215.8 L331.0,215.6 L332.0,215.5 L333.0,215.7 L334.0,216.1 L335.0,216.8 L336.0,217.7 L337.0,218.9 L338.0,220.2 L339.0,221.9 L340.0,223.7 L341.0,225.8 L342.0,228.2 L343.0,230.8 L343.8,233.0" fill="none" stroke="#1fb358" stroke-width="1.45" stroke-linejoin="round" stroke-dasharray="2.8 1.1"/>
<path d="M50.0,318.5 L51.0,316.9 L52.0,315.4 L53.0,314.0 L54.0,312.7 L55.0,311.6 L56.0,310.5 L57.0,309.5 L58.0,308.6 L59.0,307.8 L60.0,307.1 L61.0,306.5 L62.0,306.0 L63.0,305.6 L64.0,305.3 L65.0,305.1 L66.0,305.0 L67.0,305.0 L68.0,305.1 L69.0,305.2 L70.0,305.4 L71.0,305.6 L72.0,305.9 L73.0,306.3 L74.0,306.7 L75.0,307.2 L76.0,307.8 L77.0,308.4 L78.0,309.1 L79.0,309.8 L80.0,310.6 L81.0,311.5 L82.0,312.4 L83.0,313.4 L84.0,314.5 L85.0,315.6 L86.0,316.8 L87.0,318.0" fill="none" stroke="#ff1e1e" stroke-width="1.1" stroke-linejoin="round" stroke-dasharray="1 1"/>
<path d="M107.5,295.8 L108.5,294.3 L109.5,292.9 L110.5,291.6 L111.5,290.3 L112.5,289.1 L113.5,288.0 L114.5,286.9 L115.5,285.9 L116.5,285.0 L117.5,284.1 L118.5,283.3 L119.5,282.6 L120.5,281.9 L121.5,281.3 L122.5,280.8 L123.5,280.3 L124.5,279.9 L125.5,279.6 L126.5,279.3 L127.5,279.1 L128.5,279.0 L129.5,278.9 L130.5,278.9 L131.5,279.0 L132.5,279.2 L133.5,279.5 L134.5,279.8 L135.5,280.3 L136.5,280.9 L137.5,281.5 L138.5,282.3 L139.5,283.1 L140.5,284.0 L141.5,285.0 L142.5,286.2 L143.5,287.4 L144.5,288.7 L145.5,290.1 L145.6,290.2" fill="none" stroke="#ff1e1e" stroke-width="1.1" stroke-linejoin="round" stroke-dasharray="1 1"/>
<path d="M152.1,296.0 L153.1,294.5 L154.1,293.1 L155.1,291.7 L156.1,290.4 L157.1,289.1 L158.1,287.9 L159.1,286.8 L160.1,285.7 L161.1,284.7 L162.1,283.8 L163.1,282.9 L164.1,282.0 L165.1,281.3 L166.1,280.6 L167.1,279.9 L168.1,279.3 L169.1,278.8 L170.1,278.3 L171.1,277.9 L172.1,277.5 L173.1,277.3 L174.1,277.0 L175.1,276.9 L176.1,276.8 L177.1,276.7 L178.1,276.7 L179.1,276.8 L180.1,277.1 L181.1,277.4 L182.1,277.8 L183.1,278.3 L184.1,278.9 L185.1,279.6 L186.1,280.4 L187.1,281.3 L188.1,282.3 L189.1,283.4 L190.1,284.6 L191.1,285.9 L192.1,287.3 L193.1,288.8 L194.1,290.4 L195.1,292.1 L196.1,293.8 L197.1,295.7 L198.0,297.5" fill="none" stroke="#ff1e1e" stroke-width="1.1" stroke-linejoin="round" stroke-dasharray="1 1"/>
<path d="M239.1,287.3 L240.1,283.7 L241.1,280.3 L242.1,277.3 L243.1,274.6 L244.1,272.2 L245.1,270.1 L246.1,268.3 L247.1,266.8 L248.1,265.7 L249.1,264.9 L250.1,264.3 L251.1,264.1 L252.1,264.1 L253.1,264.3 L254.1,264.6 L255.1,265.0 L256.1,265.6 L257.1,266.3 L258.1,267.1 L259.1,268.0 L260.1,269.1 L261.1,270.3 L262.1,271.7 L263.1,273.1 L264.1,274.7 L265.1,276.5 L266.1,278.3 L267.1,280.3 L268.1,282.4 L269.1,284.7 L269.8,286.3" fill="none" stroke="#ff1e1e" stroke-width="1.1" stroke-linejoin="round" stroke-dasharray="1 1"/>
<path d="M318.0,221.4 L319.0,218.1 L320.0,215.1 L321.0,212.3 L322.0,209.8 L323.0,207.6 L324.0,205.6 L325.0,203.9 L326.0,202.5 L327.0,201.3 L328.0,200.4 L329.0,199.7 L330.0,199.3 L331.0,199.2 L332.0,199.4 L333.0,199.8 L334.0,200.6 L335.0,201.6 L336.0,203.0 L337.0,204.7 L338.0,206.7 L339.0,208.9 L340.0,211.5 L341.0,214.4 L342.0,217.6 L342.8,220.4" fill="none" stroke="#ff1e1e" stroke-width="1.1" stroke-linejoin="round" stroke-dasharray="1 1"/>
<rect x="40.40" y="191.80" width="317.60" height="131.50" fill="none" stroke="#1c1c1c" stroke-width="1.2"/>
<path d="M142.47,316.30 Q144.17,314.70 145.77,316.10 T148.27,317.30 L148.27,324.50 Q146.57,322.90 144.97,324.10 T142.47,323.50 Z" fill="#fff" stroke="#1c1c1c" stroke-width="1.1" stroke-linejoin="round"/>
<path d="M301.77,316.30 Q303.47,314.70 305.07,316.10 T307.57,317.30 L307.57,324.50 Q305.87,322.90 304.27,324.10 T301.77,323.50 Z" fill="#fff" stroke="#1c1c1c" stroke-width="1.1" stroke-linejoin="round"/>
<line x1="420.12" y1="193.10" x2="420.12" y2="323.00" class="gr"/>
<line x1="446.63" y1="193.10" x2="446.63" y2="323.00" class="gr"/>
<line x1="473.15" y1="193.10" x2="473.15" y2="323.00" class="gr"/>
<line x1="499.67" y1="193.10" x2="499.67" y2="323.00" class="gr"/>
<line x1="526.18" y1="193.10" x2="526.18" y2="323.00" class="gr"/>
<line x1="552.70" y1="193.10" x2="552.70" y2="323.00" class="gr"/>
<line x1="579.22" y1="193.10" x2="579.22" y2="323.00" class="gr"/>
<line x1="605.73" y1="193.10" x2="605.73" y2="323.00" class="gr"/>
<line x1="632.25" y1="193.10" x2="632.25" y2="323.00" class="gr"/>
<line x1="658.77" y1="193.10" x2="658.77" y2="323.00" class="gr"/>
<line x1="685.28" y1="193.10" x2="685.28" y2="323.00" class="gr"/>
<line x1="394.40" y1="207.12" x2="711.00" y2="207.12" class="gr"/>
<line x1="394.40" y1="221.95" x2="711.00" y2="221.95" class="gr"/>
<line x1="394.40" y1="236.78" x2="711.00" y2="236.78" class="gr"/>
<line x1="394.40" y1="251.60" x2="711.00" y2="251.60" class="gr"/>
<line x1="394.40" y1="266.43" x2="711.00" y2="266.43" class="gr"/>
<line x1="394.40" y1="281.25" x2="711.00" y2="281.25" class="gr"/>
<line x1="394.40" y1="296.07" x2="711.00" y2="296.07" class="gr"/>
<line x1="394.40" y1="310.90" x2="711.00" y2="310.90" class="gr"/>
<text x="390.00" y="197.00" font-size="13" text-anchor="end" >5</text>
<text x="390.00" y="226.65" font-size="13" text-anchor="end" >4</text>
<text x="390.00" y="256.30" font-size="13" text-anchor="end" >3</text>
<text x="390.00" y="285.95" font-size="13" text-anchor="end" >2</text>
<text x="390.00" y="315.60" font-size="13" text-anchor="end" >1</text>
<text x="388.00" y="327.70" font-size="13" text-anchor="start" transform="rotate(90 388.00 327.70)" >0.38</text>
<text x="414.52" y="327.70" font-size="13" text-anchor="start" transform="rotate(90 414.52 327.70)" >0.4</text>
<text x="441.03" y="327.70" font-size="13" text-anchor="start" transform="rotate(90 441.03 327.70)" >0.42</text>
<text x="467.55" y="327.70" font-size="13" text-anchor="start" transform="rotate(90 467.55 327.70)" >0.44</text>
<text x="494.07" y="327.70" font-size="13" text-anchor="start" transform="rotate(90 494.07 327.70)" >0.5</text>
<text x="520.58" y="327.70" font-size="13" text-anchor="start" transform="rotate(90 520.58 327.70)" >0.6</text>
<text x="547.10" y="327.70" font-size="13" text-anchor="start" transform="rotate(90 547.10 327.70)" >0.7</text>
<text x="573.62" y="327.70" font-size="13" text-anchor="start" transform="rotate(90 573.62 327.70)" >0.8</text>
<text x="600.13" y="327.70" font-size="13" text-anchor="start" transform="rotate(90 600.13 327.70)" >0.9</text>
<text x="626.65" y="327.70" font-size="13" text-anchor="start" transform="rotate(90 626.65 327.70)" >1.0</text>
<text x="653.17" y="327.70" font-size="13" text-anchor="start" transform="rotate(90 653.17 327.70)" >2.4</text>
<text x="679.68" y="327.70" font-size="13" text-anchor="start" transform="rotate(90 679.68 327.70)" >2.5</text>
<text x="706.20" y="327.70" font-size="13" text-anchor="start" transform="rotate(90 706.20 327.70)" >2.6</text>
<text x="519.80" y="361.60" font-size="13" text-anchor="start" textLength="65.5" lengthAdjust="spacingAndGlyphs" >Freq./ GHz</text>
<text x="398.60" y="187.90" font-size="13.5" text-anchor="start" textLength="15.9" lengthAdjust="spacingAndGlyphs" >(d)</text>
<text transform="translate(379.00 295.00) rotate(-90)" font-size="13" textLength="55" lengthAdjust="spacingAndGlyphs">Gain/ dBi</text>
<path d="M526.0,214.6 L550.0,214.6" fill="none" stroke="#f5974a" stroke-width="1.3" stroke-linejoin="round" stroke-dasharray="8.5 3.2" stroke-dashoffset="7.3"/>
<path d="M526.0,230.9 L550.0,230.9" fill="none" stroke="#1fb358" stroke-width="1.6" stroke-linejoin="round" stroke-dasharray="3.2 1"/>
<path d="M526.0,252.2 L550.0,252.2" fill="none" stroke="#ff1e1e" stroke-width="1.5" stroke-linejoin="round" stroke-dasharray="3 2"/>
<path d="M526.0,266.7 L550.0,266.7" fill="none" stroke="#161616" stroke-width="1.4" stroke-linejoin="round"/>
<text x="552.00" y="219.20" font-size="13" text-anchor="start" textLength="21.6" lengthAdjust="spacingAndGlyphs" >45°</text>
<text x="552.00" y="235.80" font-size="13" text-anchor="start" textLength="21.6" lengthAdjust="spacingAndGlyphs" >30°</text>
<text x="552.00" y="254.40" font-size="13" text-anchor="start" textLength="21.6" lengthAdjust="spacingAndGlyphs" >15°</text>
<text x="552.00" y="271.80" font-size="13" text-anchor="start" textLength="13.0" lengthAdjust="spacingAndGlyphs" >0°</text>
<path d="M403.0,317.4 L404.0,316.0 L405.0,314.7 L406.0,313.4 L407.0,312.3 L408.0,311.2 L409.0,310.2 L410.0,309.3 L411.0,308.5 L412.0,307.8 L413.0,307.1 L414.0,306.6 L415.0,306.1 L416.0,305.7 L417.0,305.4 L418.0,305.1 L419.0,305.0 L420.0,304.9 L421.0,304.9 L422.0,305.0 L423.0,305.2 L424.0,305.5 L425.0,305.9 L426.0,306.4 L427.0,307.0 L428.0,307.7 L429.0,308.4 L430.0,309.3 L431.0,310.2 L432.0,311.3 L433.0,312.4 L434.0,313.6 L435.0,314.9 L436.0,316.4 L437.0,317.9 L438.0,319.5 L438.2,319.8" fill="none" stroke="#161616" stroke-width="1.4" stroke-linejoin="round"/>
<path d="M454.4,300.4 L455.4,298.7 L456.4,297.0 L457.4,295.5 L458.4,294.0 L459.4,292.6 L460.4,291.3 L461.4,290.1 L462.4,289.0 L463.4,288.0 L464.4,287.0 L465.4,286.2 L466.4,285.4 L467.4,284.7 L468.4,284.1 L469.4,283.6 L470.4,283.2 L471.4,282.9 L472.4,282.6 L473.4,282.5 L474.4,282.4 L475.4,282.4 L476.4,282.5 L477.4,282.6 L478.4,282.9 L479.4,283.2 L480.4,283.5 L481.4,283.9 L482.4,284.4 L483.4,285.0 L484.4,285.6 L485.4,286.3 L486.4,287.1 L487.4,287.9 L488.4,288.8 L489.4,289.8 L490.4,290.8 L491.4,291.9 L492.4,293.1 L493.4,294.3 L494.4,295.6 L495.4,297.0 L496.4,298.5 L497.4,300.0 L498.4,301.6 L498.6,301.9" fill="none" stroke="#161616" stroke-width="1.4" stroke-linejoin="round"/>
<path d="M506.0,290.0 L507.0,289.1 L508.0,288.1 L509.0,287.2 L510.0,286.4 L511.0,285.6 L512.0,284.8 L513.0,284.0 L514.0,283.3 L515.0,282.5 L516.0,281.9 L517.0,281.2 L518.0,280.6 L519.0,280.0 L520.0,279.4 L521.0,278.9 L522.0,278.4 L523.0,277.9 L524.0,277.4 L525.0,277.0 L526.0,276.6 L527.0,276.3 L528.0,275.9 L529.0,275.6 L530.0,275.4 L531.0,275.1 L532.0,274.9 L533.0,274.7 L534.0,274.6 L535.0,274.4 L536.0,274.3 L537.0,274.3 L538.0,274.2 L539.0,274.2 L540.0,274.3 L541.0,274.6 L542.0,275.1 L543.0,275.7 L544.0,276.5 L545.0,277.5 L546.0,278.7 L547.0,280.1 L548.0,281.6 L549.0,283.4 L550.0,285.3 L551.0,287.4 L551.2,287.8" fill="none" stroke="#161616" stroke-width="1.4" stroke-linejoin="round"/>
<path d="M591.7,287.8 L592.7,284.7 L593.7,281.8 L594.7,279.2 L595.7,276.7 L596.7,274.6 L597.7,272.6 L598.7,270.9 L599.7,269.3 L600.7,268.1 L601.7,267.0 L602.7,266.2 L603.7,265.6 L604.7,265.2 L605.7,265.1 L606.7,265.2 L607.7,265.4 L608.7,265.7 L609.7,266.2 L610.7,266.9 L611.7,267.6 L612.7,268.6 L613.7,269.7 L614.7,270.9 L615.7,272.2 L616.7,273.8 L617.7,275.4 L618.7,277.2 L619.7,279.2 L620.7,281.3 L621.7,283.5 L622.7,285.9 L623.6,288.2" fill="none" stroke="#161616" stroke-width="1.4" stroke-linejoin="round"/>
<path d="M672.6,234.3 L673.6,230.3 L674.6,226.7 L675.6,223.4 L676.6,220.5 L677.6,217.9 L678.6,215.7 L679.6,213.9 L680.6,212.3 L681.6,211.2 L682.6,210.4 L683.6,209.9 L684.6,209.8 L685.6,210.0 L686.6,210.4 L687.6,211.2 L688.6,212.2 L689.6,213.4 L690.6,214.9 L691.6,216.7 L692.6,218.8 L693.6,221.1 L694.6,223.7 L695.6,226.6 L696.6,229.7 L697.6,233.1 L697.8,233.8" fill="none" stroke="#161616" stroke-width="1.4" stroke-linejoin="round"/>
<path d="M403.0,318.0 L404.0,317.0 L405.0,316.0 L406.0,315.1 L407.0,314.2 L408.0,313.3 L409.0,312.5 L410.0,311.8 L411.0,311.0 L412.0,310.4 L413.0,309.7 L414.0,309.1 L415.0,308.6 L416.0,308.1 L417.0,307.6 L418.0,307.2 L419.0,306.9 L420.0,306.5 L421.0,306.3 L422.0,306.0 L423.0,305.8 L424.0,305.7 L425.0,305.6 L426.0,305.5 L427.0,305.5 L428.0,305.6 L429.0,305.9 L430.0,306.4 L431.0,307.1 L432.0,308.0 L433.0,309.1 L434.0,310.4 L435.0,311.8 L436.0,313.5 L437.0,315.4 L438.0,317.4" fill="none" stroke="#f5974a" stroke-width="1.4" stroke-linejoin="round" stroke-dasharray="5 2.2"/>
<path d="M454.4,301.3 L455.4,300.4 L456.4,299.5 L457.4,298.6 L458.4,297.8 L459.4,297.0 L460.4,296.3 L461.4,295.6 L462.4,294.9 L463.4,294.3 L464.4,293.8 L465.4,293.2 L466.4,292.7 L467.4,292.3 L468.4,291.9 L469.4,291.5 L470.4,291.2 L471.4,290.9 L472.4,290.6 L473.4,290.4 L474.4,290.3 L475.4,290.1 L476.4,290.1 L477.4,290.0 L478.4,290.0 L479.4,290.1 L480.4,290.2 L481.4,290.5 L482.4,290.8 L483.4,291.2 L484.4,291.7 L485.4,292.3 L486.4,293.0 L487.4,293.7 L488.4,294.5 L489.4,295.5 L490.4,296.4 L491.4,297.5 L492.4,298.7 L493.4,299.9 L494.4,301.3 L495.4,302.7 L496.4,304.2 L497.4,305.8 L498.4,307.5 L498.6,307.8" fill="none" stroke="#f5974a" stroke-width="1.4" stroke-linejoin="round" stroke-dasharray="5 2.2"/>
<path d="M506.0,294.9 L507.0,293.4 L508.0,291.9 L509.0,290.5 L510.0,289.1 L511.0,287.8 L512.0,286.6 L513.0,285.5 L514.0,284.4 L515.0,283.4 L516.0,282.4 L517.0,281.5 L518.0,280.7 L519.0,280.0 L520.0,279.3 L521.0,278.7 L522.0,278.1 L523.0,277.6 L524.0,277.2 L525.0,276.8 L526.0,276.5 L527.0,276.3 L528.0,276.1 L529.0,276.0 L530.0,276.0 L531.0,276.0 L532.0,276.2 L533.0,276.4 L534.0,276.7 L535.0,277.2 L536.0,277.7 L537.0,278.3 L538.0,279.0 L539.0,279.7 L540.0,280.6 L541.0,281.6 L542.0,282.7 L543.0,283.8 L544.0,285.1 L545.0,286.4 L546.0,287.8 L547.0,289.4 L548.0,291.0 L549.0,292.7 L550.0,294.5 L551.0,296.4" fill="none" stroke="#f5974a" stroke-width="1.4" stroke-linejoin="round" stroke-dasharray="5 2.2"/>
<path d="M591.7,280.2 L592.7,278.6 L593.7,277.1 L594.7,275.7 L595.7,274.5 L596.7,273.4 L597.7,272.4 L598.7,271.5 L599.7,270.8 L600.7,270.2 L601.7,269.7 L602.7,269.3 L603.7,269.1 L604.7,269.0 L605.7,269.0 L606.7,269.1 L607.7,269.3 L608.7,269.6 L609.7,269.9 L610.7,270.3 L611.7,270.8 L612.7,271.4 L613.7,272.1 L614.7,272.8 L615.7,273.6 L616.7,274.5 L617.7,275.5 L618.7,276.6 L619.7,277.7 L620.7,279.0 L621.7,280.3 L622.7,281.7 L623.6,283.0" fill="none" stroke="#f5974a" stroke-width="1.4" stroke-linejoin="round" stroke-dasharray="5 2.2"/>
<path d="M672.6,229.8 L673.6,227.4 L674.6,225.2 L675.6,223.2 L676.6,221.3 L677.6,219.6 L678.6,218.0 L679.6,216.6 L680.6,215.3 L681.6,214.2 L682.6,213.3 L683.6,212.5 L684.6,211.9 L685.6,211.5 L686.6,211.2 L687.6,211.0 L688.6,211.1 L689.6,211.5 L690.6,212.4 L691.6,213.6 L692.6,215.3 L693.6,217.4 L694.6,219.9 L695.6,222.8 L696.6,226.1 L697.6,229.8 L697.8,230.6" fill="none" stroke="#f5974a" stroke-width="1.4" stroke-linejoin="round" stroke-dasharray="5 2.2"/>
<path d="M403.0,321.3 L404.0,319.4 L405.0,317.6 L406.0,315.9 L407.0,314.3 L408.0,312.9 L409.0,311.5 L410.0,310.3 L411.0,309.2 L412.0,308.2 L413.0,307.3 L414.0,306.6 L415.0,306.0 L416.0,305.4 L417.0,305.0 L418.0,304.7 L419.0,304.6 L420.0,304.5 L421.0,304.5 L422.0,304.7 L423.0,304.9 L424.0,305.3 L425.0,305.7 L426.0,306.2 L427.0,306.8 L428.0,307.6 L429.0,308.4 L430.0,309.3 L431.0,310.3 L432.0,311.4 L433.0,312.6 L434.0,313.9 L435.0,315.3 L436.0,316.7 L437.0,318.3 L438.0,320.0" fill="none" stroke="#1fb358" stroke-width="1.45" stroke-linejoin="round" stroke-dasharray="2.8 1.1"/>
<path d="M454.4,297.4 L455.4,296.4 L456.4,295.4 L457.4,294.5 L458.4,293.6 L459.4,292.8 L460.4,292.0 L461.4,291.4 L462.4,290.7 L463.4,290.1 L464.4,289.6 L465.4,289.2 L466.4,288.7 L467.4,288.4 L468.4,288.1 L469.4,287.9 L470.4,287.7 L471.4,287.6 L472.4,287.5 L473.4,287.5 L474.4,287.6 L475.4,287.7 L476.4,287.8 L477.4,288.1 L478.4,288.4 L479.4,288.7 L480.4,289.1 L481.4,289.6 L482.4,290.2 L483.4,290.8 L484.4,291.4 L485.4,292.1 L486.4,292.9 L487.4,293.7 L488.4,294.6 L489.4,295.6 L490.4,296.6 L491.4,297.7 L492.4,298.8 L493.4,300.0 L494.4,301.3 L495.4,302.6 L496.4,304.0 L497.4,305.4 L498.4,306.9 L498.6,307.2" fill="none" stroke="#1fb358" stroke-width="1.45" stroke-linejoin="round" stroke-dasharray="2.8 1.1"/>
<path d="M506.0,288.9 L507.0,287.7 L508.0,286.5 L509.0,285.3 L510.0,284.2 L511.0,283.2 L512.0,282.3 L513.0,281.3 L514.0,280.5 L515.0,279.7 L516.0,278.9 L517.0,278.2 L518.0,277.6 L519.0,277.0 L520.0,276.5 L521.0,276.0 L522.0,275.6 L523.0,275.2 L524.0,274.9 L525.0,274.7 L526.0,274.5 L527.0,274.3 L528.0,274.2 L529.0,274.2 L530.0,274.2 L531.0,274.3 L532.0,274.5 L533.0,274.7 L534.0,275.0 L535.0,275.4 L536.0,275.9 L537.0,276.4 L538.0,277.0 L539.0,277.6 L540.0,278.4 L541.0,279.2 L542.0,280.0 L543.0,281.0 L544.0,282.0 L545.0,283.1 L546.0,284.2 L547.0,285.4 L548.0,286.7 L549.0,288.1 L550.0,289.5 L551.0,291.0" fill="none" stroke="#1fb358" stroke-width="1.45" stroke-linejoin="round" stroke-dasharray="2.8 1.1"/>
<path d="M591.7,293.2 L592.7,290.9 L593.7,288.7 L594.7,286.7 L595.7,284.9 L596.7,283.3 L597.7,281.9 L598.7,280.6 L599.7,279.6 L600.7,278.7 L601.7,278.0 L602.7,277.5 L603.7,277.2 L604.7,277.0 L605.7,277.0 L606.7,277.1 L607.7,277.4 L608.7,277.7 L609.7,278.1 L610.7,278.6 L611.7,279.2 L612.7,279.9 L613.7,280.7 L614.7,281.6 L615.7,282.6 L616.7,283.7 L617.7,284.9 L618.7,286.2 L619.7,287.6 L620.7,289.0 L621.7,290.6 L622.7,292.3 L623.6,293.9" fill="none" stroke="#1fb358" stroke-width="1.45" stroke-linejoin="round" stroke-dasharray="2.8 1.1"/>
<path d="M672.6,228.3 L673.6,225.3 L674.6,222.5 L675.6,220.0 L676.6,217.7 L677.6,215.7 L678.6,213.8 L679.6,212.2 L680.6,210.9 L681.6,209.8 L682.6,208.9 L683.6,208.2 L684.6,207.8 L685.6,207.6 L686.6,207.7 L687.6,208.0 L688.6,208.5 L689.6,209.3 L690.6,210.4 L691.6,211.7 L692.6,213.2 L693.6,215.1 L694.6,217.1 L695.6,219.4 L696.6,222.0 L697.6,224.8 L697.8,225.4" fill="none" stroke="#1fb358" stroke-width="1.45" stroke-linejoin="round" stroke-dasharray="2.8 1.1"/>
<path d="M403.0,318.5 L404.0,317.1 L405.0,315.7 L406.0,314.5 L407.0,313.3 L408.0,312.2 L409.0,311.2 L410.0,310.3 L411.0,309.5 L412.0,308.8 L413.0,308.1 L414.0,307.6 L415.0,307.1 L416.0,306.7 L417.0,306.4 L418.0,306.2 L419.0,306.0 L420.0,306.0 L421.0,306.0 L422.0,306.2 L423.0,306.4 L424.0,306.6 L425.0,307.0 L426.0,307.4 L427.0,308.0 L428.0,308.6 L429.0,309.2 L430.0,310.0 L431.0,310.9 L432.0,311.8 L433.0,312.8 L434.0,313.9 L435.0,315.0 L436.0,316.3 L437.0,317.6 L438.0,319.0" fill="none" stroke="#ff1e1e" stroke-width="1.1" stroke-linejoin="round" stroke-dasharray="1 1"/>
<path d="M454.4,300.0 L455.4,299.1 L456.4,298.2 L457.4,297.4 L458.4,296.5 L459.4,295.8 L460.4,295.0 L461.4,294.3 L462.4,293.7 L463.4,293.0 L464.4,292.5 L465.4,291.9 L466.4,291.4 L467.4,290.9 L468.4,290.5 L469.4,290.1 L470.4,289.7 L471.4,289.4 L472.4,289.1 L473.4,288.8 L474.4,288.6 L475.4,288.4 L476.4,288.2 L477.4,288.1 L478.4,288.0 L479.4,288.0 L480.4,288.0 L481.4,288.1 L482.4,288.2 L483.4,288.4 L484.4,288.7 L485.4,289.0 L486.4,289.4 L487.4,289.9 L488.4,290.4 L489.4,291.1 L490.4,291.8 L491.4,292.5 L492.4,293.3 L493.4,294.2 L494.4,295.2 L495.4,296.2 L496.4,297.3 L497.4,298.5 L498.4,299.7 L498.6,300.0" fill="none" stroke="#ff1e1e" stroke-width="1.1" stroke-linejoin="round" stroke-dasharray="1 1"/>
<path d="M506.0,292.0 L507.0,290.9 L508.0,289.8 L509.0,288.7 L510.0,287.7 L511.0,286.8 L512.0,285.9 L513.0,285.0 L514.0,284.2 L515.0,283.4 L516.0,282.7 L517.0,282.0 L518.0,281.3 L519.0,280.8 L520.0,280.2 L521.0,279.7 L522.0,279.2 L523.0,278.8 L524.0,278.4 L525.0,278.1 L526.0,277.8 L527.0,277.6 L528.0,277.4 L529.0,277.2 L530.0,277.1 L531.0,277.0 L532.0,277.0 L533.0,277.0 L534.0,277.2 L535.0,277.4 L536.0,277.8 L537.0,278.2 L538.0,278.7 L539.0,279.3 L540.0,280.0 L541.0,280.8 L542.0,281.7 L543.0,282.7 L544.0,283.8 L545.0,285.0 L546.0,286.2 L547.0,287.6 L548.0,289.1 L549.0,290.6 L550.0,292.3 L551.0,294.0" fill="none" stroke="#ff1e1e" stroke-width="1.1" stroke-linejoin="round" stroke-dasharray="1 1"/>
<path d="M592.0,283.0 L593.0,281.7 L594.0,280.5 L595.0,279.4 L596.0,278.4 L597.0,277.5 L598.0,276.7 L599.0,276.0 L600.0,275.4 L601.0,274.9 L602.0,274.5 L603.0,274.1 L604.0,273.9 L605.0,273.7 L606.0,273.7 L607.0,273.7 L608.0,273.9 L609.0,274.1 L610.0,274.3 L611.0,274.7 L612.0,275.1 L613.0,275.6 L614.0,276.2 L615.0,276.9 L616.0,277.7 L617.0,278.5 L618.0,279.4 L619.0,280.4 L620.0,281.5 L621.0,282.6 L622.0,283.9 L623.0,285.2 L623.6,286.0" fill="none" stroke="#ff1e1e" stroke-width="1.1" stroke-linejoin="round" stroke-dasharray="1 1"/>
<path d="M671.1,243.1 L672.1,240.0 L673.1,237.1 L674.1,234.4 L675.1,232.0 L676.1,229.7 L677.1,227.8 L678.1,226.0 L679.1,224.5 L680.1,223.2 L681.1,222.1 L682.1,221.3 L683.1,220.7 L684.1,220.3 L685.1,220.2 L686.1,220.3 L687.1,220.6 L688.1,221.2 L689.1,222.0 L690.1,223.1 L691.1,224.4 L692.1,226.0 L693.1,227.8 L694.1,229.8 L695.1,232.1 L696.1,234.6 L697.1,237.4 L698.1,240.4 L698.5,241.7" fill="none" stroke="#ff1e1e" stroke-width="1.1" stroke-linejoin="round" stroke-dasharray="1 1"/>
<rect x="393.60" y="192.30" width="318.20" height="131.50" fill="none" stroke="#1c1c1c" stroke-width="1.2"/>
<path d="M496.77,316.80 Q498.47,315.20 500.07,316.60 T502.57,317.80 L502.57,325.00 Q500.87,323.40 499.27,324.60 T496.77,324.00 Z" fill="#fff" stroke="#1c1c1c" stroke-width="1.1" stroke-linejoin="round"/>
<path d="M655.87,316.80 Q657.57,315.20 659.17,316.60 T661.67,317.80 L661.67,325.00 Q659.97,323.40 658.37,324.60 T655.87,324.00 Z" fill="#fff" stroke="#1c1c1c" stroke-width="1.1" stroke-linejoin="round"/>

<defs>
<filter id="bl" x="-5%" y="-5%" width="110%" height="110%"><feGaussianBlur stdDeviation="0.6"/></filter>
<clipPath id="ph1"><rect x="49.8" y="204.9" width="47.8" height="51.8"/></clipPath>
<clipPath id="ph2"><rect x="97.6" y="205.2" width="68" height="51.5"/></clipPath>
<linearGradient id="pbg1" x1="0" x2="1" y1="0" y2="0"><stop offset="0" stop-color="#c4c4c4"/><stop offset="0.05" stop-color="#d6d6d6"/><stop offset="0.3" stop-color="#dcdcdc"/><stop offset="0.75" stop-color="#e4e4e4"/><stop offset="1" stop-color="#dedede"/></linearGradient>
<linearGradient id="cyl" x1="0" x2="1" y1="0" y2="0"><stop offset="0" stop-color="#4a2c16"/><stop offset="0.1" stop-color="#6e4420"/><stop offset="0.3" stop-color="#36220f"/><stop offset="0.44" stop-color="#5e4028"/><stop offset="0.5" stop-color="#a88a6a"/><stop offset="0.56" stop-color="#4e321c"/><stop offset="0.76" stop-color="#7e5634"/><stop offset="0.87" stop-color="#c8a682"/><stop offset="1" stop-color="#5e3c20"/></linearGradient>
<linearGradient id="pbg2" x1="0" x2="1" y1="0" y2="1"><stop offset="0" stop-color="#c8c8c8"/><stop offset="0.35" stop-color="#d8d8d8"/><stop offset="1" stop-color="#e6e6e6"/></linearGradient>
<linearGradient id="blob" x1="0" x2="0.4" y1="0" y2="1"><stop offset="0" stop-color="#d0c6b4"/><stop offset="0.5" stop-color="#c2b6a0"/><stop offset="1" stop-color="#ae9f86"/></linearGradient>
</defs>
<g filter="url(#bl)">
<g clip-path="url(#ph1)">
<rect x="49.8" y="204.9" width="47.8" height="51.8" fill="url(#pbg1)"/>
<path d="M66.4,204.9 L85,204.9 L84.6,249 Q84,251.8 80,251.8 L71,251.8 Q68.8,251.5 68.6,249 Z" fill="url(#cyl)"/>
<path d="M66.4,228 L68.6,249 L67,249 Z" fill="#6a5a4a" opacity="0.5"/>
<path d="M68,204.9 L82,204.9 L81.6,207.6 L68.4,207.6 Z" fill="#eadcc2"/>
<rect x="75.2" y="251.5" width="3" height="5.4" fill="#5e6e80"/>
<path d="M65.5,221.8 Q70,225.3 76.5,225.9" stroke="#5489cf" stroke-width="2.6" fill="none" stroke-linecap="round"/>
<path d="M77,226 Q83,223 88,217.5" stroke="#e83030" stroke-width="1.2" stroke-dasharray="1.4 1" fill="none"/>
<path d="M78,226.2 L93.5,226.2" stroke="#e83030" stroke-width="1.2" stroke-dasharray="1.4 1" fill="none"/>
<path d="M87,217 Q92,214.5 94,219 Q95,224 92,226" stroke="#303030" stroke-width="0.8" stroke-dasharray="1 0.9" fill="none"/>
<rect x="96.8" y="204.9" width="1" height="51.8" fill="#c4c4c4"/>
</g>
<g clip-path="url(#ph2)">
<rect x="97.6" y="205.2" width="68" height="51.5" fill="url(#pbg2)"/>
<path d="M115.6,226 Q120,214 131,209.9 Q140,210 146.4,214.8 Q153,216.5 154.8,220.4 Q155,225 153.4,227.4 Q151,232 149.2,237.2 Q147,241 145,244.2 Q144,249 142.2,251.2 Q140,250.5 138,248.4 Q134,249.5 131,249.1 Q126,248.5 122.6,245.6 Q119,242 118.4,238.6 Q116.5,235 117,231.6 Z" fill="url(#blob)"/>
<path d="M132,222 Q138,220 142,224 L144,236 Q140,240 135,238 Z" fill="#cfc5b5" opacity="0.6"/>
<path d="M118,236 Q120,246 130,249 L124,246 Z" fill="#a89880" opacity="0.6"/>
<path d="M109.5,232 Q111,221 119,214 Q127,209 136,208.5 Q139,208.6 141,209.5" stroke="#2e160a" stroke-width="4.4" fill="none"/>
<path d="M111,233.5 Q114,227 119.5,222.5" stroke="#5a2c14" stroke-width="3.2" fill="none" opacity="0.85"/>
<path d="M121.5,231.5 A13.3,16 0 0 1 148.1,231.5" stroke="#4b86d2" stroke-width="5.8" fill="none"/>
<path d="M116.2,228.8 L118.6,233.6 L126.2,230 Z" fill="#4b86d2"/>
<path d="M105,207.3 L133,207.3" stroke="#e83030" stroke-width="1.3" stroke-dasharray="1.3 1.1" fill="none"/>
<path d="M105.5,208.5 Q99,215 102,222 Q104,226 108,229" stroke="#303030" stroke-width="0.8" stroke-dasharray="1 0.9" fill="none"/>
<circle cx="152.3" cy="222.6" r="1.8" fill="#f4f4f4"/>
</g>
</g>

</svg></body></html>
